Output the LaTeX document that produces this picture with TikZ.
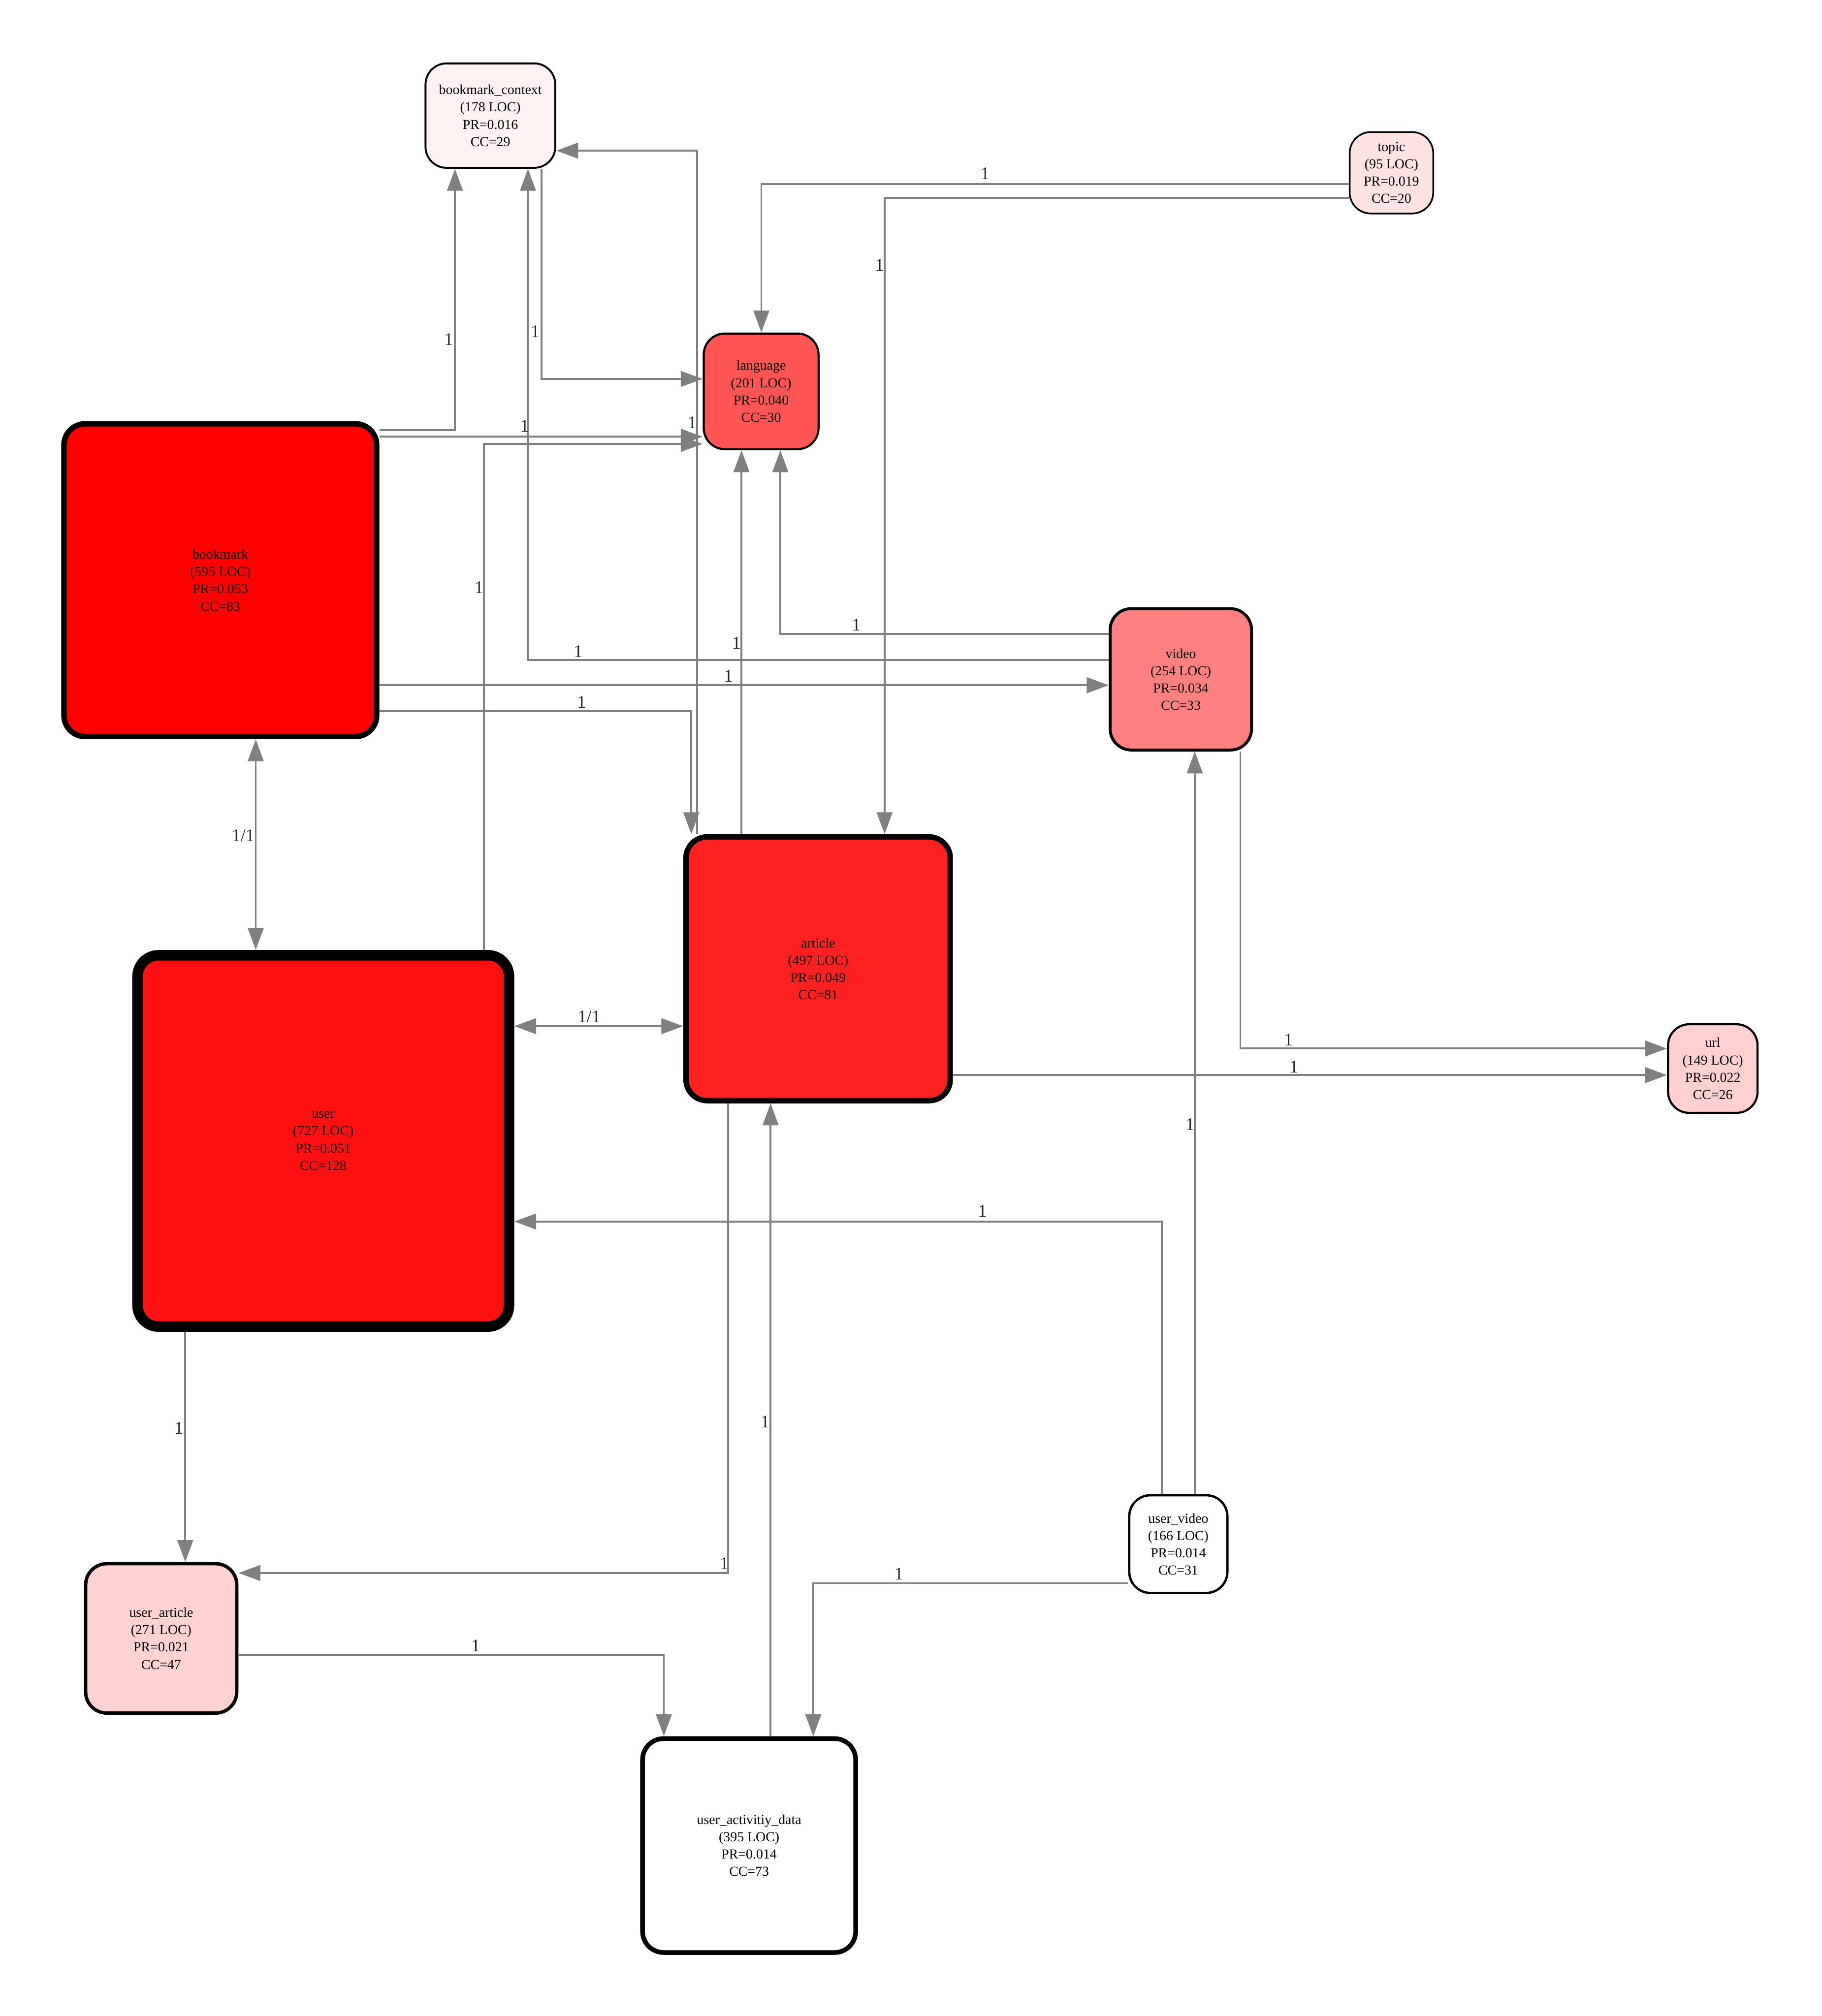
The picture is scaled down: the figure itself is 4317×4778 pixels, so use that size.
\documentclass[tikz,border=0pt]{standalone}
\usepackage{fontspec}
\setmainfont{Liberation Serif}
\usetikzlibrary{arrows.meta}
\definecolor{edgegray}{HTML}{808080}
\definecolor{cBC}{RGB}{255,242,242}
\definecolor{cTopic}{RGB}{255,226,226}
\definecolor{cLang}{RGB}{255,85,85}
\definecolor{cBookmark}{RGB}{255,0,0}
\definecolor{cVideo}{RGB}{255,128,128}
\definecolor{cArticle}{RGB}{255,32,32}
\definecolor{cUser}{RGB}{255,16,16}
\definecolor{cUrl}{RGB}{255,208,208}
\definecolor{cUA}{RGB}{255,210,210}
\begin{document}
\begin{tikzpicture}[x=0.2pt,y=-0.2pt,
  box/.style={draw=black, rounded corners=10pt, inner sep=0pt, align=center,
    font=\fontsize{6.5}{8.2}\selectfont, text=black},
  edge/.style={draw=edgegray, line width=0.9pt,
    -{Triangle[length=10.4pt,width=7.4pt,fill=edgegray]}},
  bothedge/.style={draw=edgegray, line width=0.9pt,
    {Triangle[length=10.4pt,width=7.4pt,fill=edgegray]}-{Triangle[length=10.4pt,width=7.4pt,fill=edgegray]}},
  lbl/.style={font=\fontsize{8.4}{10}\selectfont, inner sep=0pt, text=black!85}]
\fill[white] (0,0) rectangle (4317,4778);
\useasboundingbox (0,0) rectangle (4317,4778);

% nodes
\node[box, line width=0.9pt, fill=cBC, minimum width=61.5pt, minimum height=49.5pt] (bc) at (1162,274)
  {bookmark\_context\\(178 LOC)\\PR=0.016\\CC=29};
\node[box, line width=0.8pt, fill=cTopic, minimum width=39.6pt, minimum height=38.6pt] (topic) at (3297,409.5)
  {topic\\(95 LOC)\\PR=0.019\\CC=20};
\node[box, line width=1pt, fill=cLang, minimum width=54.4pt, minimum height=54.8pt] (language) at (1803.5,927.5)
  {language\\(201 LOC)\\PR=0.040\\CC=30};
\node[box, line width=2.6pt, fill=cBookmark, minimum width=148.2pt, minimum height=148.2pt] (bookmark) at (522,1375)
  {bookmark\\(595 LOC)\\PR=0.053\\CC=83};
\node[box, line width=1.4pt, fill=cVideo, minimum width=67pt, minimum height=67pt] (video) at (2798,1610)
  {video\\(254 LOC)\\PR=0.034\\CC=33};
\node[box, line width=2.6pt, fill=cArticle, minimum width=125.2pt, minimum height=125pt] (article) at (1938.5,2296)
  {article\\(497 LOC)\\PR=0.049\\CC=81};
\node[box, line width=5pt, fill=cUser, minimum width=176pt, minimum height=176pt] (user) at (766,2704)
  {user\\(727 LOC)\\PR=0.051\\CC=128};
\node[box, line width=1pt, fill=cUrl, minimum width=42.4pt, minimum height=42pt] (url) at (4058.5,2532.5)
  {url\\(149 LOC)\\PR=0.022\\CC=26};
\node[box, line width=1.1pt, fill=white, minimum width=46.5pt, minimum height=46.3pt] (uv) at (2792,3659.5)
  {user\_video\\(166 LOC)\\PR=0.014\\CC=31};
\node[box, line width=1.6pt, fill=cUA, minimum width=71.6pt, minimum height=70.8pt] (ua) at (382,3883)
  {user\_article\\(271 LOC)\\PR=0.021\\CC=47};
\node[box, line width=2.2pt, fill=white, minimum width=101pt, minimum height=101.4pt] (uad) at (1775,4374)
  {user\_activitiy\_data\\(395 LOC)\\PR=0.014\\CC=73};

% edges
\draw[edge] (bookmark.east |- 0,1019) -| (1078,0 |- bc.south);
\draw[edge] (bookmark.east |- 0,1035) -- (language.west |- 0,1035);
\draw[edge] (1283,0 |- bc.south) |- (language.west |- 0,898);
\draw[edge] (1147,0 |- user.north) |- (language.west |- 0,1052);
\draw[edge] (1652,0 |- article.north) |- (bc.east |- 0,357);
\draw[edge] (1757,0 |- article.north) -- (1757,0 |- language.south);
\draw[edge] (video.west |- 0,1502) -| (1849,0 |- language.south);
\draw[edge] (video.west |- 0,1564) -| (1251,0 |- bc.south);
\draw[edge] (bookmark.east |- 0,1624) -- (video.west |- 0,1624);
\draw[edge] (bookmark.east |- 0,1686) -| (1638,0 |- article.north);
\draw[edge] (topic.west |- 0,436) -| (1804,0 |- language.north);
\draw[edge] (topic.west |- 0,469) -| (2096,0 |- article.north);
\draw[bothedge] (606,0 |- bookmark.south) -- (606,0 |- user.north);
\draw[bothedge] (user.east |- 0,2432) -- (article.west |- 0,2432);
\draw[edge] (2939,0 |- video.south) |- (url.west |- 0,2485);
\draw[edge] (article.east |- 0,2548) -- (url.west |- 0,2548);
\draw[edge] (2831,0 |- uv.north) -- (2831,0 |- video.south);
\draw[edge] (2753,0 |- uv.north) |- (user.east |- 0,2895);
\draw[edge] (uv.west |- 0,3752) -| (1927,0 |- uad.north);
\draw[edge] (439,0 |- user.south) -- (439,0 |- ua.north);
\draw[edge] (1725,0 |- article.south) |- (ua.east |- 0,3728);
\draw[edge] (ua.east |- 0,3923) -| (1573,0 |- uad.north);
\draw[edge] (1826,0 |- uad.north) -- (1826,0 |- article.south);

% labels
\node[lbl] (l1) at (1063,804) {1};
\node[lbl] (l2) at (1268,786) {1};
\node[lbl] (l3) at (1243,1010) {1};
\node[lbl] (l4) at (1640,1002) {1};
\node[lbl] (l5) at (1135,1392) {1};
\node[lbl] (l6) at (1745,1524) {1};
\node[lbl] (l7) at (2029,1481) {1};
\node[lbl] (l8) at (1370,1544) {1};
\node[lbl] (l9) at (1726,1602) {1};
\node[lbl] (l10) at (1378,1664) {1};
\node[lbl] (l11) at (2334,411) {1};
\node[lbl] (l12) at (2084,628) {1};
\node[lbl] (l13) at (576,1981) {1/1};
\node[lbl] (l14) at (1396,2410) {1/1};
\node[lbl] (l15) at (3053,2464) {1};
\node[lbl] (l16) at (3066,2528) {1};
\node[lbl] (l17) at (2820,2665) {1};
\node[lbl] (l18) at (2328,2870) {1};
\node[lbl] (l19) at (2130,3730) {1};
\node[lbl] (l20) at (424,3385) {1};
\node[lbl] (l21) at (1716,3705) {1};
\node[lbl] (l22) at (1127,3900) {1};
\node[lbl] (l23) at (1813,3370) {1};
\end{tikzpicture}
\end{document}
